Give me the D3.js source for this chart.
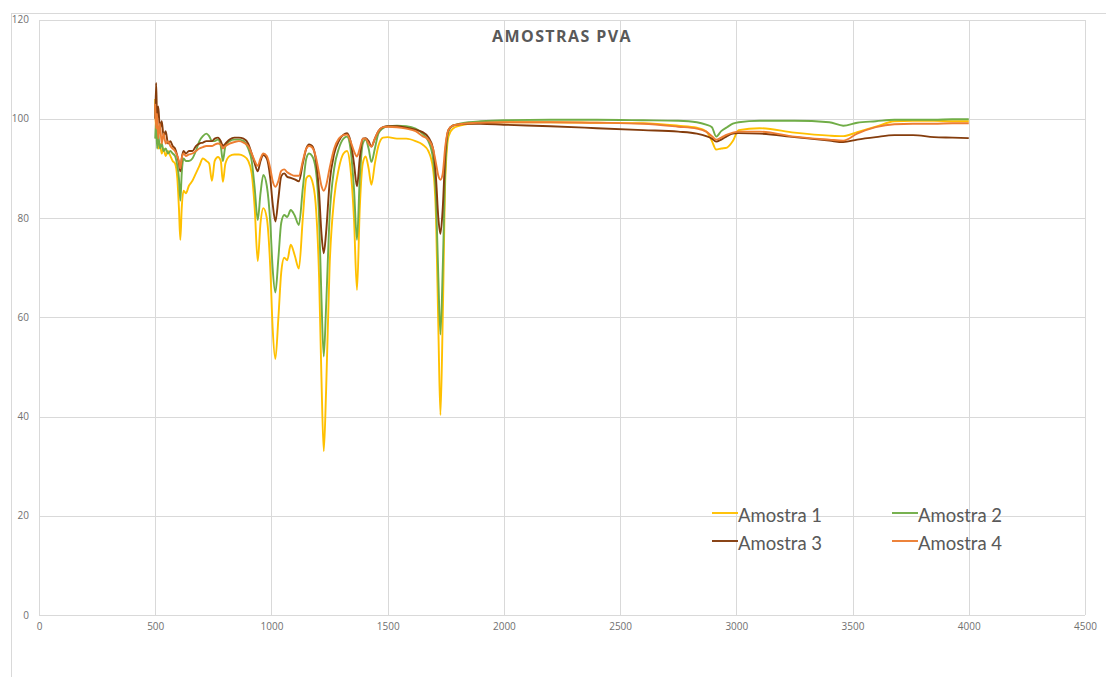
<!DOCTYPE html>
<html>
<head>
<meta charset="utf-8">
<script src="https://cdn.jsdelivr.net/npm/d3@7"></script>
<style>
  html, body { margin: 0; padding: 0; background: #ffffff; }
  svg { display: block; }
</style>
</head>
<body>
<svg id="chart" width="1106" height="677"></svg>
<script>
// ---------- DATA ----------
const chartTitle = "AMOSTRAS PVA";
const seriesNames = ["Amostra 1", "Amostra 2", "Amostra 3", "Amostra 4"];
const xTicks = [0, 500, 1000, 1500, 2000, 2500, 3000, 3500, 4000, 4500];
const yTicks = [0, 20, 40, 60, 80, 100, 120];

const wavenumbers = [
  500, 504, 508, 513, 520, 528, 536, 545, 555, 565, 575, 585, 595, 602, 608, 614, 622, 632, 645, 660,
  675, 690, 705, 720, 732, 744, 756, 770, 782, 791, 802, 820, 840, 860, 880, 900, 915, 928, 941, 953,
  965, 980, 995, 1005, 1017, 1030, 1042, 1055, 1068, 1083, 1100, 1118, 1135, 1150, 1162, 1175, 1190, 1205, 1215, 1225,
  1235, 1250, 1270, 1290, 1310, 1325, 1340, 1355, 1368, 1380, 1393, 1405, 1418, 1430, 1445, 1460, 1480, 1500, 1540, 1580,
  1620, 1650, 1675, 1695, 1708, 1718, 1727, 1737, 1748, 1762, 1780, 1810, 1850, 1900, 2000, 2200, 2400, 2600, 2750, 2830,
  2870, 2895, 2913, 2935, 2960, 2985, 3010, 3100, 3250, 3400, 3460, 3520, 3600, 3680, 3760, 3850, 3930, 4000
];

const amostra1 = [
  104, 96, 98, 94, 95, 93, 94, 92.5, 93.5, 92.5, 91.5, 91, 88, 82, 75.6, 82, 85.5, 85, 86.5, 87.5,
  89, 90.5, 92, 91.5, 91, 87.5, 91.5, 92.3, 91.5, 87.3, 91, 92.5, 92.8, 92.8, 92.5, 91.5, 89, 82, 71.3, 79,
  82, 80, 70, 58, 51.6, 60, 69, 72, 71.5, 74.6, 72.5, 69.8, 80, 88, 88.5, 87.5, 83, 68, 48, 33,
  45, 70, 84, 90, 93, 93.5, 90, 80, 65.5, 82, 91, 92.4, 90, 86.7, 91, 94.5, 96.2, 96.3, 96, 96,
  95.5, 94.8, 93.5, 90, 80, 58, 40.3, 60, 88, 96.5, 98, 98.6, 99, 99.2, 99.3, 99.3, 99.2, 99.1, 98.6, 98.2,
  97.5, 95.5, 93.8, 94, 94.2, 95.5, 97.7, 98.1, 97.2, 96.6, 96.5, 97.3, 98.4, 99.5, 99.6, 99.6, 99.5, 99.5
];

const amostra2 = [
  96, 100, 94, 97, 94, 95, 93.5, 94, 93, 93.5, 93, 92.5, 90.5, 88, 83.5, 89, 92, 91.5, 91.5, 92,
  93.5, 95.5, 96.5, 97, 96.5, 95.5, 95.5, 95.8, 94.5, 91.5, 94.5, 95.5, 95.8, 95.8, 95.5, 94, 91.5, 86, 79.6, 85,
  88.7, 86.5, 79, 70, 65, 72, 79, 80.6, 80.2, 81.6, 80.5, 78.6, 86, 92, 93, 92.5, 90, 80, 64, 52.1,
  62, 80, 90, 94, 96, 96.4, 94, 86, 75.6, 88, 95, 95.8, 94, 91.3, 94, 97, 98.1, 98.5, 98.6, 98.5,
  98, 97, 95.5, 92, 84, 68, 56.5, 70, 90, 97.5, 98.6, 99, 99.3, 99.5, 99.7, 99.8, 99.8, 99.7, 99.6, 99.3,
  98.8, 98.3, 96.4, 97.5, 98.3, 99, 99.3, 99.6, 99.6, 99.3, 98.6, 99.2, 99.5, 99.8, 99.8, 99.8, 99.9, 99.9
];

const amostra3 = [
  100, 107.2, 100, 102.5, 98, 99.5, 96.5, 97.5, 95, 95.5, 94.5, 94, 92.5, 91, 89.4, 92, 93.5, 93, 93.5, 93.5,
  94.5, 95, 95.2, 95.5, 95.5, 95.5, 96, 96.2, 95.5, 94.5, 95, 95.8, 96.2, 96.2, 96, 95, 93, 91, 89.4, 91.5,
  92.7, 92, 88, 83, 79.3, 84, 88.4, 89, 88.3, 88.1, 87.8, 87.4, 91, 94, 94.8, 94.5, 92, 85, 77, 72.9,
  77, 87, 93, 95.5, 96.8, 97.1, 95.5, 91, 86.4, 92, 96, 96.1, 95.5, 94.4, 96, 97.5, 98.3, 98.5, 98.5, 98.2,
  97.8, 97.3, 96.3, 94, 88, 80, 76.8, 82, 93, 97.8, 98.6, 98.9, 99, 99, 98.8, 98.5, 98.1, 97.7, 97.4, 97,
  96.5, 96, 95.4, 95.8, 96.5, 97, 97.1, 97, 96.3, 95.6, 95.3, 95.8, 96.3, 96.7, 96.7, 96.3, 96.2, 96.1
];

const amostra4 = [
  103, 98, 101, 96, 99, 95, 97, 95, 95.5, 94.5, 94, 93.5, 92.5, 91.5, 90, 92, 93, 92.5, 92.8, 93,
  93.5, 94, 94.3, 94.5, 94.5, 94.5, 94.8, 95, 94.8, 94, 94.5, 95, 95.3, 95.5, 95.2, 94.5, 93, 91.5, 90.5, 92,
  93, 92.5, 90, 87.5, 86.3, 87.5, 89.5, 89.8, 89.2, 88.8, 88.5, 88.5, 91.5, 94, 94.5, 94.2, 92.5, 89, 86.5, 85.5,
  86.5, 90, 94, 96, 96.7, 96.8, 95.5, 93.5, 92.4, 94, 96, 96, 95, 94.4, 96, 97.5, 98.3, 98.4, 98.3, 98,
  97.5, 96.5, 95.8, 94, 91, 88.5, 87.7, 89, 94.5, 97.8, 98.6, 98.9, 99.1, 99.2, 99.3, 99.3, 99.2, 99, 98.4, 98,
  97.4, 96.5, 95.8, 96.2, 96.8, 97.2, 97.4, 97.4, 96.4, 95.8, 95.6, 97, 98.3, 98.9, 99, 99, 99.1, 99.1
];

const seriesValues = [amostra1, amostra2, amostra3, amostra4];
const seriesColors = ["#FFC000", "#70AD47", "#843C0C", "#ED7D31"];

// ---------- LAYOUT ----------
const svg = d3.select("#chart");
const x = d3.scaleLinear().domain([0, 4500]).range([39, 1085]);
const y = d3.scaleLinear().domain([0, 120]).range([615, 19.5]);
const gridColor = "#d9d9d9";
const labelColor = "#707070";

// chart area border (top and left edges visible)
svg.append("line").attr("x1", 11).attr("x2", 1106).attr("y1", 13.5).attr("y2", 13.5)
  .attr("stroke", gridColor).attr("stroke-width", 1);
svg.append("line").attr("x1", 11.5).attr("x2", 11.5).attr("y1", 13).attr("y2", 677)
  .attr("stroke", gridColor).attr("stroke-width", 1);

// Y axis + horizontal grid
const yAxis = svg.append("g")
  .attr("transform", `translate(${x(0)},0)`)
  .call(d3.axisLeft(y).tickValues(yTicks).tickSize(-(x(4500) - x(0))).tickPadding(10).tickFormat(d3.format("d")));
yAxis.select(".domain").remove();
yAxis.selectAll("line").attr("stroke", gridColor).attr("shape-rendering", "crispEdges");
yAxis.selectAll("text").attr("fill", labelColor).style("font-family", "'Open Sans', sans-serif").style("font-size", "10px");

// X axis + vertical grid
const xAxis = svg.append("g")
  .attr("transform", `translate(0,${y(0)})`)
  .call(d3.axisBottom(x).tickValues(xTicks).tickSize(-(y(0) - y(120))).tickPadding(8).tickFormat(d3.format("d")));
xAxis.select(".domain").remove();
xAxis.selectAll("line").attr("stroke", gridColor).attr("shape-rendering", "crispEdges");
xAxis.selectAll("text").attr("fill", labelColor).style("font-family", "'Open Sans', sans-serif").style("font-size", "10px");

// Series lines
const line = d3.line()
  .x((d, i) => x(wavenumbers[i]))
  .y(d => y(d))
  .curve(d3.curveMonotoneX);

seriesValues.forEach((vals, k) => {
  svg.append("path")
    .datum(vals)
    .attr("d", line)
    .attr("fill", "none")
    .attr("stroke", seriesColors[k])
    .attr("stroke-width", 1.9)
    .attr("stroke-linejoin", "round");
});

// Title
svg.append("text")
  .attr("x", 562).attr("y", 42)
  .attr("text-anchor", "middle")
  .attr("fill", "#595959")
  .style("font-family", "'Open Sans', sans-serif")
  .style("font-weight", "bold")
  .style("font-size", "16px")
  .style("letter-spacing", "1.4px")
  .text(chartTitle);

// Legend (2 x 2)
const legendPos = [
  { lx: 712, ty: 513 },
  { lx: 892, ty: 513 },
  { lx: 712, ty: 541 },
  { lx: 892, ty: 541 }
];
seriesNames.forEach((name, k) => {
  const p = legendPos[k];
  svg.append("line")
    .attr("x1", p.lx).attr("x2", p.lx + 26)
    .attr("y1", p.ty).attr("y2", p.ty)
    .attr("stroke", seriesColors[k]).attr("stroke-width", 1.9);
  svg.append("text")
    .attr("x", p.lx + 26).attr("y", p.ty + 9)
    .attr("fill", "#595959")
    .style("font-family", "Lato, sans-serif")
    .style("font-size", "18.5px")
    .text(name);
});
</script>
</body>
</html>
